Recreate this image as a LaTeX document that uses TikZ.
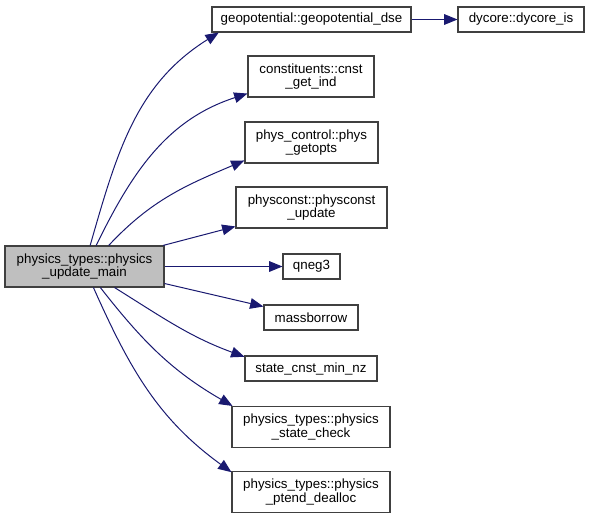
\documentclass[tikz,border=0pt]{standalone}
\usepackage{fontspec}
\setmainfont{Liberation Sans}
\usetikzlibrary{arrows.meta}
\definecolor{edgeblue}{HTML}{191970}

\begin{document}
\begin{tikzpicture}
    [x=0.75pt,y=-0.75pt,
     fn/.style={rectangle,draw=black!75,line width=0.8pt,fill=white,inner sep=0pt,
       align=center,font=\fontsize{10}{10.2}\selectfont,minimum height=18.75pt},
     two/.style={minimum height=30.75pt},
     call/.style={-{Triangle[length=10pt,width=8pt,fill=edgeblue]},draw=edgeblue,line width=0.75pt}]

    \useasboundingbox (0,0) rectangle (589,518);

    \node[fn,two,fill=black!25,minimum width=119.25pt] (main) at (84.5,266.5) {physics\_types::physics\\\_update\_main};

    \node[fn,minimum width=149.25pt] (geo) at (311.5,19.5) {geopotential::geopotential\_dse};
    \node[fn,minimum width=94.5pt] (dycore) at (521,19.5) {dycore::dycore\_is};
    \node[fn,two,minimum width=94.5pt] (cnst) at (311,76.5) {constituents::cnst\\\_get\_ind};
    \node[fn,two,minimum width=99.75pt] (getopts) at (311.5,142.5) {phys\_control::phys\\\_getopts};
    \node[fn,two,minimum width=113.25pt] (pconst) at (311.5,207.5) {physconst::physconst\\\_update};
    \node[fn,minimum width=42.75pt] (qneg) at (311.5,266.5) {qneg3};
    \node[fn,minimum width=70.5pt] (mass) at (311,317.5) {massborrow};
    \node[fn,minimum width=99pt] (minnz) at (311,368.5) {state\_cnst\_min\_nz};
    \node[fn,two,minimum width=118.5pt] (check) at (311,427) {physics\_types::physics\\\_state\_check};
    \node[fn,two,minimum width=118.5pt] (dealloc) at (311,492) {physics\_types::physics\\\_ptend\_dealloc};

    % calls from physics_update_main
    \draw[call] (main.75) to[out=74,in=212] (geo.188);
    \draw[call] (main.61) to[out=64,in=198] (cnst.195);
    \draw[call] (main.41) to[out=47,in=203] (getopts.195);
    \draw[call] (main.15) -- (pconst.194.5);
    \draw[call] (main.east) -- (qneg.west);
    \draw[call] (main.-12.4) -- (mass.167);
    \draw[call] (main.-35.7) to[out=-32,in=160] (minnz.170);
    \draw[call] (main.-53) to[out=-52,in=150] (check.165);
    \draw[call] (main.-67.5) to[out=-66,in=144] (dealloc.166);

    \draw[call] (geo.east) -- (dycore.west);
  \end{tikzpicture}
\end{document}
